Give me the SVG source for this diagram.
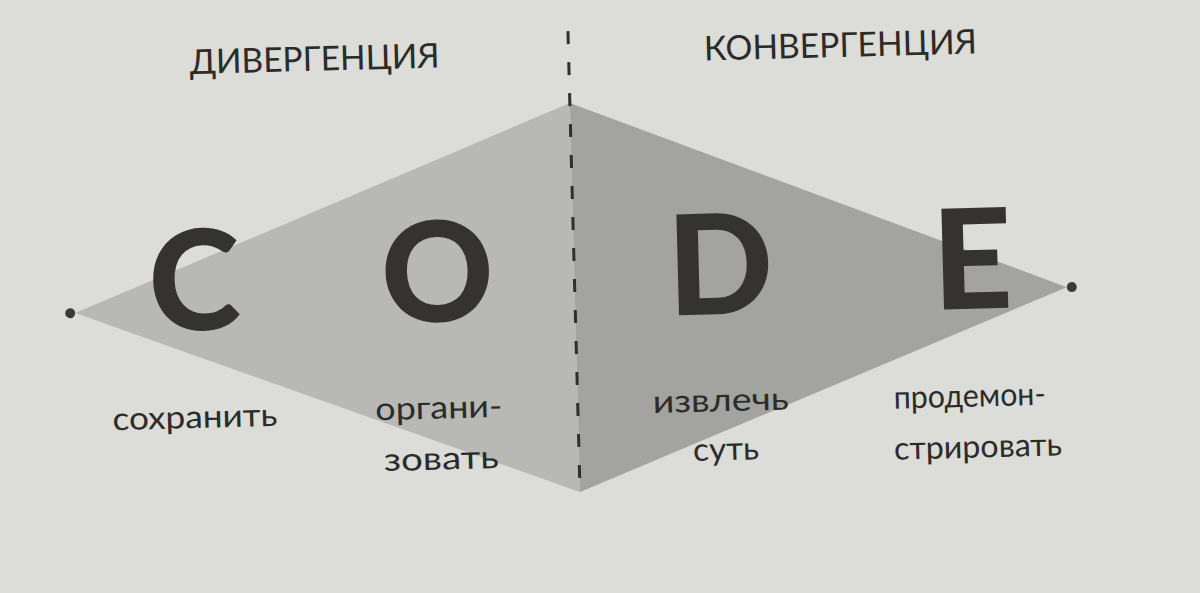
<svg xmlns="http://www.w3.org/2000/svg" width="1200" height="593" viewBox="0 0 1200 593">
  <style>
    .title { font-family: Lato, "Liberation Sans", sans-serif; font-size: 34px; fill: #2b2b2a; text-anchor: middle; }
    .label { font-family: Lato, "Liberation Sans", sans-serif; font-size: 32px; fill: #2b2b2a; text-anchor: middle; }
    .big { font-family: Lato, "Liberation Sans", sans-serif; font-size: 139px; font-weight: 900; fill: #343331; text-anchor: middle; }
    .divider { stroke: #2f2f2e; stroke-width: 3; stroke-dasharray: 13 18; fill: none; }
    .dot { fill: #3a3a38; }
  </style>
  <rect x="0" y="0" width="1200" height="593" fill="#dcdcd9"/>
  <g transform="rotate(-1.5 576 300)">
    <g id="diamond">
      <polygon id="divergence-area" points="75,300 575,103 575,492" fill="#b8b8b5"/>
      <polygon id="convergence-area" points="575,103 1067,300 575,492" fill="#a3a3a0"/>
      <circle class="dot" cx="70" cy="300" r="5"/>
      <circle class="dot" cx="1072" cy="300" r="5"/>
    </g>
    <g id="connectors">
      <line class="divider" x1="575" y1="31" x2="575" y2="496"/>
    </g>
    <g id="titles">
      <text class="title" x="321" y="64" textLength="250" lengthAdjust="spacingAndGlyphs">ДИВЕРГЕНЦИЯ</text>
      <text class="title" x="847" y="64" textLength="273" lengthAdjust="spacingAndGlyphs">КОНВЕРГЕНЦИЯ</text>
    </g>
    <g id="node-C">
      <text class="big" x="195" y="320">C</text>
      <text class="label" x="192" y="418" textLength="165" lengthAdjust="spacingAndGlyphs">сохранить</text>
    </g>
    <g id="node-O">
      <text class="big" x="438" y="318">O</text>
      <text class="label" x="436" y="415" textLength="127" lengthAdjust="spacingAndGlyphs">органи-</text>
      <text class="label" x="437" y="466" textLength="115" lengthAdjust="spacingAndGlyphs">зовать</text>
    </g>
    <g id="node-D">
      <text class="big" x="721" y="318">D</text>
      <text class="label" x="718" y="415" textLength="136" lengthAdjust="spacingAndGlyphs">извлечь</text>
      <text class="label" x="722" y="464" textLength="66" lengthAdjust="spacingAndGlyphs">суть</text>
    </g>
    <g id="node-E">
      <text class="big" x="973" y="319">E</text>
      <text class="label" x="967" y="417" textLength="152" lengthAdjust="spacingAndGlyphs">продемон-</text>
      <text class="label" x="974" y="468" textLength="168" lengthAdjust="spacingAndGlyphs">стрировать</text>
    </g>
  </g>
</svg>
